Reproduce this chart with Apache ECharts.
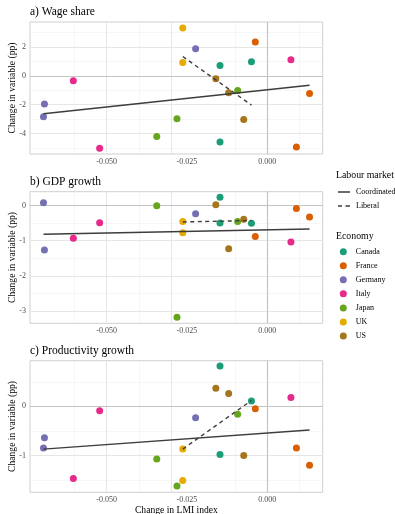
<!DOCTYPE html>
<html><head><meta charset="utf-8">
<script src="https://cdn.jsdelivr.net/npm/echarts@6/dist/echarts.min.js"></script>
<style>html,body{margin:0;padding:0;background:#fff}#c{width:395px;height:514px}</style>
</head><body><div id="c"></div><script>
// ---- data ----
const countries = ['Canada','France','Germany','Italy','Japan','UK','US'];
const countryColors = ['#1B9E77','#D95F02','#7570B3','#E7298A','#66A61E','#E6AB02','#A6761D'];
const obsCountry = ['Canada','Canada','Canada','France','France','France','Germany','Germany','Germany',
  'Italy','Italy','Italy','Japan','Japan','Japan','UK','UK','US','US','US'];
const obsLMI = [-0.0147,-0.0147,-0.0049, -0.0037,0.0091,0.0132, -0.0223,-0.0694,-0.0697,
  0.0074,-0.0604,-0.0522, -0.0092,-0.0281,-0.0344, -0.0263,-0.0263, -0.0160,-0.0120,-0.0073];
const wageShare = [0.71,-4.59,0.97, 2.35,-4.94,-1.22, 1.89,-1.96,-2.84,
  1.11,-0.35,-5.03, -1.02,-2.98,-4.22, 3.32,0.92, -0.21,-1.18,-3.04];
const gdpGrowth = [0.23,-0.50,-0.51, -0.88,-0.09,-0.33, -0.24,-1.27,0.075,
  -1.04,-0.93,-0.49, -0.46,-3.18,-0.01, -0.46,-0.78, 0.02,-1.23,-0.39];
const prodGrowth = [0.82,-0.98,0.11, -0.05,-0.85,-1.20, -0.23,-0.64,-0.85,
  0.18,-1.47,-0.09, -0.16,-1.62,-1.07, -0.87,-1.51, 0.37,0.26,-1.00];
// fitted lines (end points)
const coordX = [-0.0697, 0.0132];
const libX = [-0.0263, -0.0049];
const wageCoord = [-2.63, -0.65], wageLib = [1.34, -2.03];
const gdpCoord = [-0.82, -0.67], gdpLib = [-0.47, -0.43];
const prodCoord = [-0.87, -0.48], prodLib = [-0.87, 0.12];
// ticks
const xTicks = [-0.05, -0.025, 0];
const xMinor = [-0.0625, -0.0375, -0.0125, 0.0125];
const wageTicks = [-4, -2, 0, 2], wageMinor = [-5, -3, -1, 1, 3];
const gdpTicks = [-3, -2, -1, 0], gdpMinor = [-2.5, -1.5, -0.5];
const prodTicks = [-1, 0], prodMinor = [-1.5, -0.5, 0.5];
const panelTitles = ['a) Wage share', 'b) GDP growth', 'c) Productivity growth'];

// ---- layout ----
const FONT = 'Liberation Serif';
const panels = [
  {top: 22, height: 132, ymin: -5.43, ymax: 3.74, ys: wageShare, ticks: wageTicks, minor: wageMinor, coord: wageCoord, lib: wageLib},
  {top: 191.7, height: 131.6, ymin: -3.35, ymax: 0.39, ys: gdpGrowth, ticks: gdpTicks, minor: gdpMinor, coord: gdpCoord, lib: gdpLib},
  {top: 360.7, height: 131.6, ymin: -1.75, ymax: 0.93, ys: prodGrowth, ticks: prodTicks, minor: prodMinor, coord: prodCoord, lib: prodLib}
];
const GL = 30, GW = 292.7;

const grids = [], xAxes = [], yAxes = [], series = [], titles = [], graphics = [];
panels.forEach((p, i) => {
  grids.push({left: GL, top: p.top, width: GW, height: p.height, show: true,
    borderColor: '#cfcfcf', borderWidth: 1, backgroundColor: '#fff', containLabel: false, outerBoundsMode: 'none'});
  xAxes.push({type: 'value', gridIndex: i, min: -0.0739, max: 0.0173,
    axisLine: {show: false}, splitLine: {show: false}, axisTick: {show: false},
    axisLabel: {customValues: xTicks, formatter: v => v.toFixed(3), fontFamily: FONT, fontSize: 8, color: '#4d4d4d', margin: 4}});
  yAxes.push({type: 'value', gridIndex: i, min: p.ymin, max: p.ymax,
    axisLine: {show: false}, splitLine: {show: false}, axisTick: {show: false},
    axisLabel: {customValues: p.ticks, formatter: v => String(Math.round(v)), fontFamily: FONT, fontSize: 8, color: '#4d4d4d', margin: 4}});
  const ml = [];
  xMinor.forEach(v => ml.push({xAxis: v, lineStyle: {color: '#f0f0f0', width: 0.6, type: 'solid'}}));
  p.minor.forEach(v => ml.push({yAxis: v, lineStyle: {color: '#f0f0f0', width: 0.6, type: 'solid'}}));
  xTicks.filter(v => v !== 0).forEach(v => ml.push({xAxis: v, lineStyle: {color: '#e6e6e6', width: 1, type: 'solid'}}));
  p.ticks.filter(v => v !== 0).forEach(v => ml.push({yAxis: v, lineStyle: {color: '#e6e6e6', width: 1, type: 'solid'}}));
  ml.push({xAxis: 0, lineStyle: {color: '#c4c4c4', width: 1.2, type: 'solid'}});
  ml.push({yAxis: 0, lineStyle: {color: '#c4c4c4', width: 1.2, type: 'solid'}});
  series.push({type: 'line', xAxisIndex: i, yAxisIndex: i, data: [], silent: true, z: 0,
    markLine: {silent: true, symbol: ['none', 'none'], label: {show: false}, animation: false, z: 0, data: ml}});
  countries.forEach((c, k) => {
    const d = [];
    obsCountry.forEach((oc, j) => { if (oc === c) d.push([obsLMI[j], p.ys[j]]); });
    series.push({type: 'scatter', name: c, xAxisIndex: i, yAxisIndex: i, data: d, symbolSize: 7,
      itemStyle: {color: countryColors[k], opacity: 1}, z: 3});
  });
  series.push({type: 'line', name: 'Coordinated', xAxisIndex: i, yAxisIndex: i, symbol: 'none', showSymbol: false, z: 4,
    data: [[coordX[0], p.coord[0]], [coordX[1], p.coord[1]]],
    lineStyle: {color: '#3d3d3d', width: 1.4, type: 'solid'}, itemStyle: {color: '#3d3d3d'}});
  series.push({type: 'line', name: 'Liberal', xAxisIndex: i, yAxisIndex: i, symbol: 'none', showSymbol: false, z: 4,
    data: [[libX[0], p.lib[0]], [libX[1], p.lib[1]]],
    lineStyle: {color: '#3d3d3d', width: 1.4, type: [4, 3.5]}, itemStyle: {color: '#3d3d3d'}});
  titles.push({text: panelTitles[i], left: 30, top: p.top - 16, padding: 0,
    textStyle: {fontFamily: FONT, fontSize: 11.5, fontWeight: 'normal', color: '#000', lineHeight: 12}});
  graphics.push({type: 'text', x: 12, y: p.top + p.height / 2, rotation: Math.PI / 2,
    style: {text: 'Change in variable (pp)', font: '9.6px "Liberation Serif"', fill: '#000', textAlign: 'center', textVerticalAlign: 'middle'}});
});
graphics.push({type: 'text', x: 176.4, y: 510, style: {text: 'Change in LMI index', font: '9.6px "Liberation Serif"', fill: '#000', textAlign: 'center', textVerticalAlign: 'middle'}});
titles.push({text: 'Labour market', left: 336, top: 170.7, padding: 0, textStyle: {fontFamily: FONT, fontSize: 9.8, fontWeight: 'normal', color: '#000', lineHeight: 10}});
titles.push({text: 'Economy', left: 336, top: 231.7, padding: 0, textStyle: {fontFamily: FONT, fontSize: 9.8, fontWeight: 'normal', color: '#000', lineHeight: 10}});

const option = {
  animation: false,
  backgroundColor: '#fff',
  title: titles,
  grid: grids, xAxis: xAxes, yAxis: yAxes, series: series,
  graphic: graphics,
  legend: [
    {data: [
        {name: 'Coordinated', icon: 'path://M0,0h12v1.5h-12z'},
        {name: 'Liberal', icon: 'path://M0,0h4v1.5h-4zM7.5,0h4.5v1.5h-4.5z'}
      ], orient: 'vertical', left: 338, top: 187, padding: 0,
     itemWidth: 12, itemHeight: 1.5, itemGap: 4, selectedMode: false, symbolKeepAspect: true,
     itemStyle: {color: '#3d3d3d'},
     textStyle: {fontFamily: FONT, fontSize: 8, color: '#000', lineHeight: 10, padding: [0, 0, 0, 1]}},
    {data: countries.map(c => ({name: c, icon: 'circle'})), orient: 'vertical', left: 339.8, top: 246.7, padding: 0,
     itemWidth: 7, itemHeight: 7, itemGap: 4.05, selectedMode: false,
     textStyle: {fontFamily: FONT, fontSize: 8, color: '#000', lineHeight: 10, padding: [0, 0, 0, 4]}}
  ]
};
const chart = echarts.init(document.getElementById('c'), null, {renderer: 'canvas'});
chart.setOption(option);
</script></body></html>
